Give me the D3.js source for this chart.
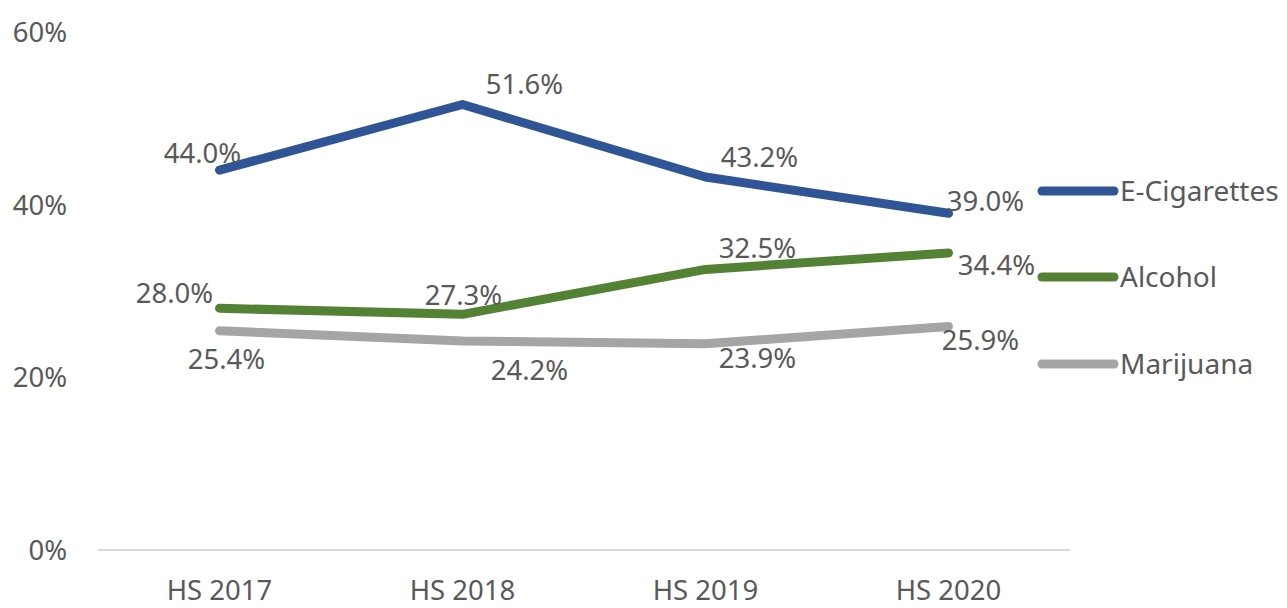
<!DOCTYPE html>
<html>
<head>
    <meta charset="utf-8">
    <script src="https://d3js.org/d3.v7.min.js"></script>
    <style>
        body { margin: 0; background: #fff; }
        svg text { font-family: 'Noto Sans', sans-serif; fill: #595959; }
    </style>
</head>
<body>
<div id="chart"></div>
<script>
    // data
    const years = ["HS 2017", "HS 2018", "HS 2019", "HS 2020"];
    const seriesNames = ["E-Cigarettes", "Alcohol", "Marijuana"];
    const eCigarettes = [44.0, 51.6, 43.2, 39.0];
    const alcohol = [28.0, 27.3, 32.5, 34.4];
    const marijuana = [25.4, 24.2, 23.9, 25.9];
    const yTicks = [0, 20, 40, 60];
    const colors = ["#2F5597", "#548235", "#A5A5A5"];

    // label offsets from the point (label centre), per series
    const labelOffsets = [
        [[-17, -17], [62, -21], [54, -20], [37, -12]],
        [[-45, -15], [1, -19], [52, -21], [48, 12]],
        [[7, 28], [67, 29], [52, 14], [32, 14]]
    ];

    const width = 1287, height = 608;
    const svg = d3.select("#chart").append("svg")
        .attr("width", width).attr("height", height);

    const x = d3.scaleBand().domain(years).range([98, 1070]);
    const y = d3.scaleLinear().domain([0, 60]).range([550, 32]);
    const cx = d => x(d) + x.bandwidth() / 2;

    // axis line
    svg.append("line")
        .attr("x1", 98).attr("x2", 1070)
        .attr("y1", y(0)).attr("y2", y(0))
        .attr("stroke", "#d9d9d9").attr("stroke-width", 2);

    // y labels
    svg.selectAll(".ytick").data(yTicks).enter().append("text")
        .attr("x", 67).attr("y", d => y(d) + 10)
        .attr("text-anchor", "end")
        .attr("font-size", 27.5)
        .text(d => d + "%");

    // x labels
    svg.selectAll(".xtick").data(years).enter().append("text")
        .attr("x", d => cx(d)).attr("y", 600)
        .attr("text-anchor", "middle")
        .attr("font-size", 27.5)
        .text(d => d);

    const allSeries = [eCigarettes, alcohol, marijuana];
    const line = d3.line().x((d, i) => cx(years[i])).y(d => y(d));

    allSeries.forEach((vals, s) => {
        svg.append("path")
            .datum(vals)
            .attr("d", line)
            .attr("fill", "none")
            .attr("stroke", colors[s])
            .attr("stroke-width", 9)
            .attr("stroke-linecap", "round")
            .attr("stroke-linejoin", "round");
    });

    allSeries.forEach((vals, s) => {
        svg.selectAll(".lbl" + s).data(vals).enter().append("text")
            .attr("x", (d, i) => cx(years[i]) + labelOffsets[s][i][0])
            .attr("y", (d, i) => y(d) + labelOffsets[s][i][1] + 10)
            .attr("text-anchor", "middle")
            .attr("font-size", 27.5)
            .text(d => d.toFixed(1) + "%");
    });

    // legend
    const legendY = [191, 277, 364];
    seriesNames.forEach((name, s) => {
        svg.append("line")
            .attr("x1", 1042).attr("x2", 1114)
            .attr("y1", legendY[s]).attr("y2", legendY[s])
            .attr("stroke", colors[s]).attr("stroke-width", 9)
            .attr("stroke-linecap", "round");
        svg.append("text")
            .attr("x", 1120).attr("y", legendY[s] + 10)
            .attr("font-size", 28)
            .text(name);
    });
</script>
</body>
</html>
